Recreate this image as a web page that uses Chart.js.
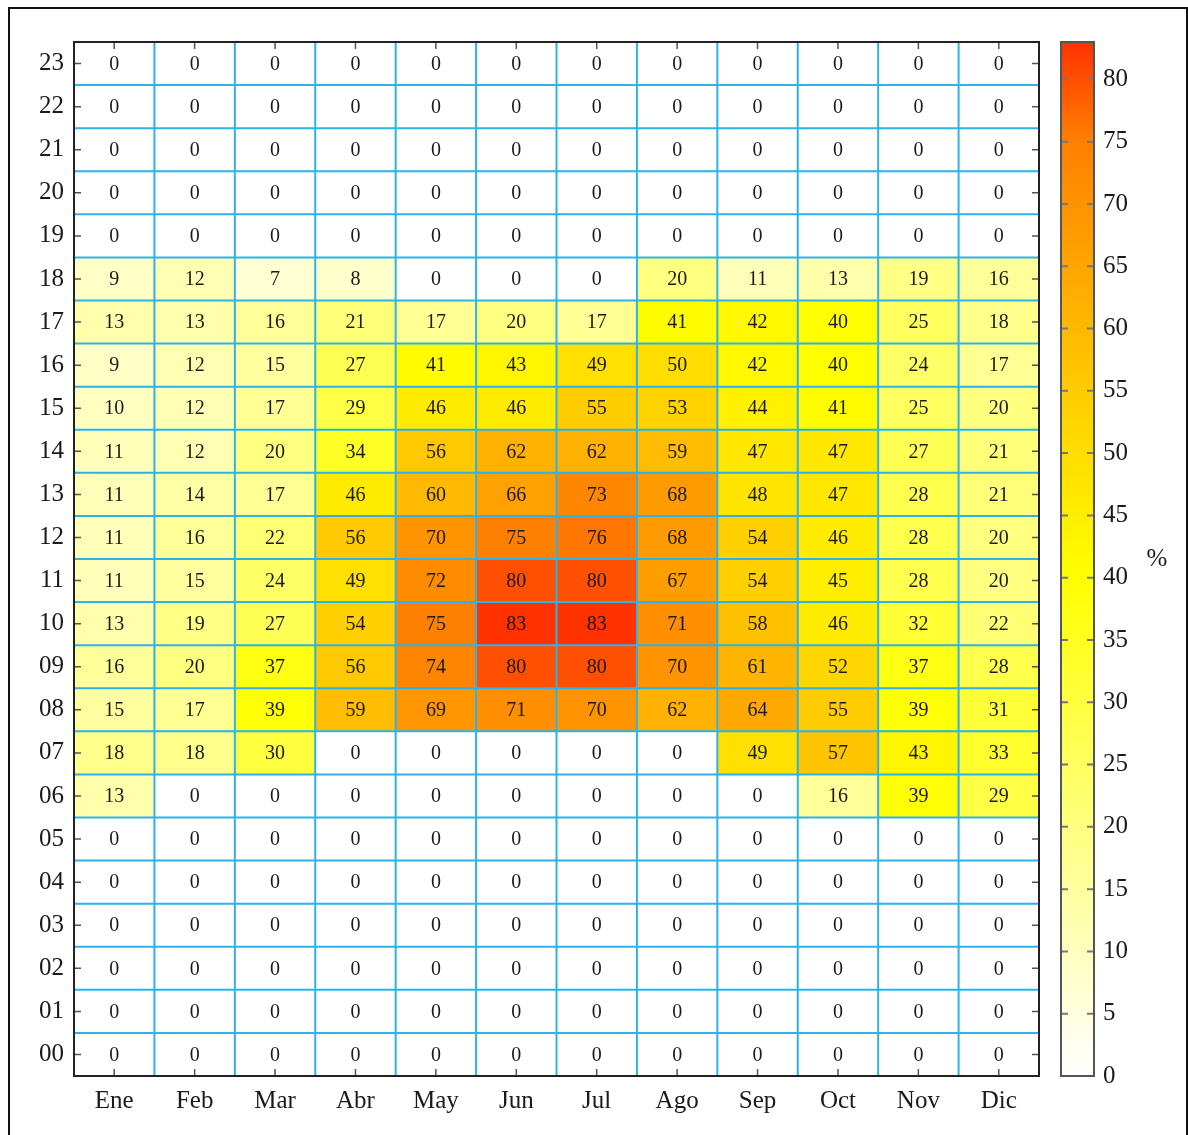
<!DOCTYPE html>
<html>
<head>
<meta charset="utf-8">
<script src="https://cdn.jsdelivr.net/npm/chart.js@4.4.0/dist/chart.umd.min.js"></script>
<style>
body { margin: 0; background: #fff; }
#frame { position: absolute; left: 8px; top: 7px; width: 1180px; height: 1200px; border: 2px solid #111; box-sizing: border-box; }
#main { position: absolute; left: 0; top: 0; width: 1050px; height: 1135px; }
#bar { position: absolute; left: 1040px; top: 0; width: 148px; height: 1135px; }
</style>
</head>
<body>
<div id="frame"></div>
<div id="main"><canvas id="heat"></canvas></div>
<div id="bar"><canvas id="scale"></canvas></div>
<script>
var months = ['Ene', 'Feb', 'Mar', 'Abr', 'May', 'Jun', 'Jul', 'Ago', 'Sep', 'Oct', 'Nov', 'Dic'];
var hours = ['00', '01', '02', '03', '04', '05', '06', '07', '08', '09', '10', '11',
             '12', '13', '14', '15', '16', '17', '18', '19', '20', '21', '22', '23'];

// % per hour (index 0 = 00h ... 23 = 23h)
var ene = [0, 0, 0, 0, 0, 0, 13, 18, 15, 16, 13, 11, 11, 11, 11, 10, 9, 13, 9, 0, 0, 0, 0, 0];
var feb = [0, 0, 0, 0, 0, 0, 0, 18, 17, 20, 19, 15, 16, 14, 12, 12, 12, 13, 12, 0, 0, 0, 0, 0];
var mar = [0, 0, 0, 0, 0, 0, 0, 30, 39, 37, 27, 24, 22, 17, 20, 17, 15, 16, 7, 0, 0, 0, 0, 0];
var abr = [0, 0, 0, 0, 0, 0, 0, 0, 59, 56, 54, 49, 56, 46, 34, 29, 27, 21, 8, 0, 0, 0, 0, 0];
var may = [0, 0, 0, 0, 0, 0, 0, 0, 69, 74, 75, 72, 70, 60, 56, 46, 41, 17, 0, 0, 0, 0, 0, 0];
var jun = [0, 0, 0, 0, 0, 0, 0, 0, 71, 80, 83, 80, 75, 66, 62, 46, 43, 20, 0, 0, 0, 0, 0, 0];
var jul = [0, 0, 0, 0, 0, 0, 0, 0, 70, 80, 83, 80, 76, 73, 62, 55, 49, 17, 0, 0, 0, 0, 0, 0];
var ago = [0, 0, 0, 0, 0, 0, 0, 0, 62, 70, 71, 67, 68, 68, 59, 53, 50, 41, 20, 0, 0, 0, 0, 0];
var sep = [0, 0, 0, 0, 0, 0, 0, 49, 64, 61, 58, 54, 54, 48, 47, 44, 42, 42, 11, 0, 0, 0, 0, 0];
var oct = [0, 0, 0, 0, 0, 0, 16, 57, 55, 52, 46, 45, 46, 47, 47, 41, 40, 40, 13, 0, 0, 0, 0, 0];
var nov = [0, 0, 0, 0, 0, 0, 39, 43, 39, 37, 32, 28, 28, 28, 27, 25, 24, 25, 19, 0, 0, 0, 0, 0];
var dic = [0, 0, 0, 0, 0, 0, 29, 33, 31, 28, 22, 20, 20, 21, 21, 20, 17, 18, 16, 0, 0, 0, 0, 0];
var byMonth = [ene, feb, mar, abr, may, jun, jul, ago, sep, oct, nov, dic];

var colorMax = 83;
var barTicks = [0, 5, 10, 15, 20, 25, 30, 35, 40, 45, 50, 55, 60, 65, 70, 75, 80];
var colorStops = [
  [0, [255, 255, 255]],
  [40, [255, 255, 0]],
  [55, [255, 204, 0]],
  [65, [255, 165, 0]],
  [75, [255, 128, 0]],
  [83, [255, 50, 0]]
];

var FONT = "'Liberation Serif', 'Times New Roman', serif";
var gridColor = '#2bb3ea';

function rgb(c) { return 'rgb(' + c[0] + ',' + c[1] + ',' + c[2] + ')'; }

function colorFor(v) {
  if (v <= 0) return 'rgba(255,255,255,0)';
  for (var i = 1; i < colorStops.length; i++) {
    var a = colorStops[i - 1], b = colorStops[i];
    if (v <= b[0]) {
      var t = (v - a[0]) / (b[0] - a[0]);
      return rgb([0, 1, 2].map(function (k) { return Math.round(a[1][k] + (b[1][k] - a[1][k]) * t); }));
    }
  }
  return rgb(colorStops[colorStops.length - 1][1]);
}

// one floating-bar dataset per hour row
var datasets = hours.map(function (hl, h) {
  var vals = byMonth.map(function (m) { return m[h]; });
  return {
    label: hl,
    data: months.map(function () { return [h, h + 1]; }),
    values: vals,
    backgroundColor: vals.map(colorFor),
    borderWidth: 0,
    barPercentage: 1,
    categoryPercentage: 1,
    grouped: false
  };
});

var heatDecor = {
  id: 'heatDecor',
  afterDatasetsDraw: function (chart) {
    var ctx = chart.ctx, a = chart.chartArea, x = chart.scales.x, y = chart.scales.y;
    var half = (x.getPixelForValue(1) - x.getPixelForValue(0)) / 2;
    ctx.save();

    ctx.strokeStyle = gridColor;
    ctx.lineWidth = 2;
    ctx.beginPath();
    for (var i = 1; i < months.length; i++) {
      var px = x.getPixelForValue(i) - half;
      ctx.moveTo(px, a.top); ctx.lineTo(px, a.bottom);
    }
    for (var h = 1; h < hours.length; h++) {
      var py = y.getPixelForValue(h);
      ctx.moveTo(a.left, py); ctx.lineTo(a.right, py);
    }
    ctx.stroke();

    // inward tick marks at row / column centres
    ctx.strokeStyle = '#555';
    ctx.lineWidth = 1.5;
    ctx.beginPath();
    for (var j = 0; j < months.length; j++) {
      var cx = x.getPixelForValue(j);
      ctx.moveTo(cx, a.top); ctx.lineTo(cx, a.top + 7);
      ctx.moveTo(cx, a.bottom); ctx.lineTo(cx, a.bottom - 7);
    }
    for (var k = 0; k < hours.length; k++) {
      var cy = y.getPixelForValue(k + 0.5);
      ctx.moveTo(a.left, cy); ctx.lineTo(a.left + 7, cy);
      ctx.moveTo(a.right, cy); ctx.lineTo(a.right - 7, cy);
    }
    ctx.stroke();

    ctx.strokeStyle = '#222';
    ctx.lineWidth = 2;
    ctx.strokeRect(a.left, a.top, a.right - a.left, a.bottom - a.top);

    ctx.fillStyle = '#1a1a1a';
    ctx.font = '20px ' + FONT;
    ctx.textAlign = 'center';
    ctx.textBaseline = 'middle';
    chart.data.datasets.forEach(function (ds, di) {
      chart.getDatasetMeta(di).data.forEach(function (bar, i) {
        ctx.fillText(String(ds.values[i]), bar.x, (bar.y + bar.base) / 2 + 1);
      });
    });
    ctx.restore();
  }
};

new Chart(document.getElementById('heat'), {
  type: 'bar',
  data: { labels: months, datasets: datasets },
  options: {
    responsive: true,
    maintainAspectRatio: false,
    animation: false,
    layout: { padding: { top: 42, right: 11, left: 0, bottom: 0 } },
    plugins: { legend: { display: false }, tooltip: { enabled: false } },
    scales: {
      x: {
        grid: { display: false, drawTicks: false },
        border: { display: false },
        ticks: { font: { family: FONT, size: 25 }, color: '#1a1a1a', padding: 10, maxRotation: 0 },
        afterFit: function (s) { s.height = 59; }
      },
      y: {
        min: 0,
        max: 24,
        grid: { display: false, drawTicks: false },
        border: { display: false },
        afterBuildTicks: function (s) {
          s.ticks = hours.map(function (hl, h) { return { value: h + 0.5 }; });
        },
        ticks: {
          font: { family: FONT, size: 25 },
          color: '#1a1a1a',
          padding: 10,
          callback: function (v) { return hours[Math.floor(v)]; }
        },
        afterFit: function (s) { s.width = 74; }
      }
    }
  },
  plugins: [heatDecor]
});

// colour bar
var barDecor = {
  id: 'barDecor',
  afterDatasetsDraw: function (chart) {
    var ctx = chart.ctx, a = chart.chartArea, y = chart.scales.y;
    ctx.save();
    ctx.strokeStyle = '#777';
    ctx.lineWidth = 2;
    ctx.beginPath();
    barTicks.forEach(function (t) {
      if (t === 0) return;
      var py = y.getPixelForValue(t);
      ctx.moveTo(a.left, py); ctx.lineTo(a.left + 7, py);
      ctx.moveTo(a.right, py); ctx.lineTo(a.right - 7, py);
    });
    ctx.stroke();
    ctx.strokeStyle = '#555';
    ctx.strokeRect(a.left, a.top, a.right - a.left, a.bottom - a.top);
    ctx.fillStyle = '#1a1a1a';
    ctx.font = '25px ' + FONT;
    ctx.textAlign = 'center';
    ctx.textBaseline = 'middle';
    ctx.fillText('%', 1157 - 1040, (a.top + a.bottom) / 2);
    ctx.restore();
  }
};

new Chart(document.getElementById('scale'), {
  type: 'bar',
  data: {
    labels: ['%'],
    datasets: [{
      data: [[0, colorMax]],
      borderWidth: 0,
      barPercentage: 1,
      categoryPercentage: 1,
      backgroundColor: function (c) {
        var ch = c.chart;
        if (!ch.chartArea) return null;
        var y = ch.scales.y;
        var g = ch.ctx.createLinearGradient(0, y.getPixelForValue(0), 0, y.getPixelForValue(colorMax));
        colorStops.forEach(function (s) { g.addColorStop(s[0] / colorMax, rgb(s[1])); });
        return g;
      }
    }]
  },
  options: {
    responsive: true,
    maintainAspectRatio: false,
    animation: false,
    layout: { padding: { top: 42, left: 21, right: 0, bottom: 59 } },
    plugins: { legend: { display: false }, tooltip: { enabled: false } },
    scales: {
      x: { display: false },
      y: {
        position: 'right',
        min: 0,
        max: colorMax,
        grid: { display: false, drawTicks: false },
        border: { display: false },
        afterBuildTicks: function (s) {
          s.ticks = barTicks.map(function (t) { return { value: t }; });
        },
        ticks: { font: { family: FONT, size: 25 }, color: '#1a1a1a', padding: 9 },
        afterFit: function (s) { s.width = 94; }
      }
    }
  },
  plugins: [barDecor]
});
</script>
</body>
</html>
